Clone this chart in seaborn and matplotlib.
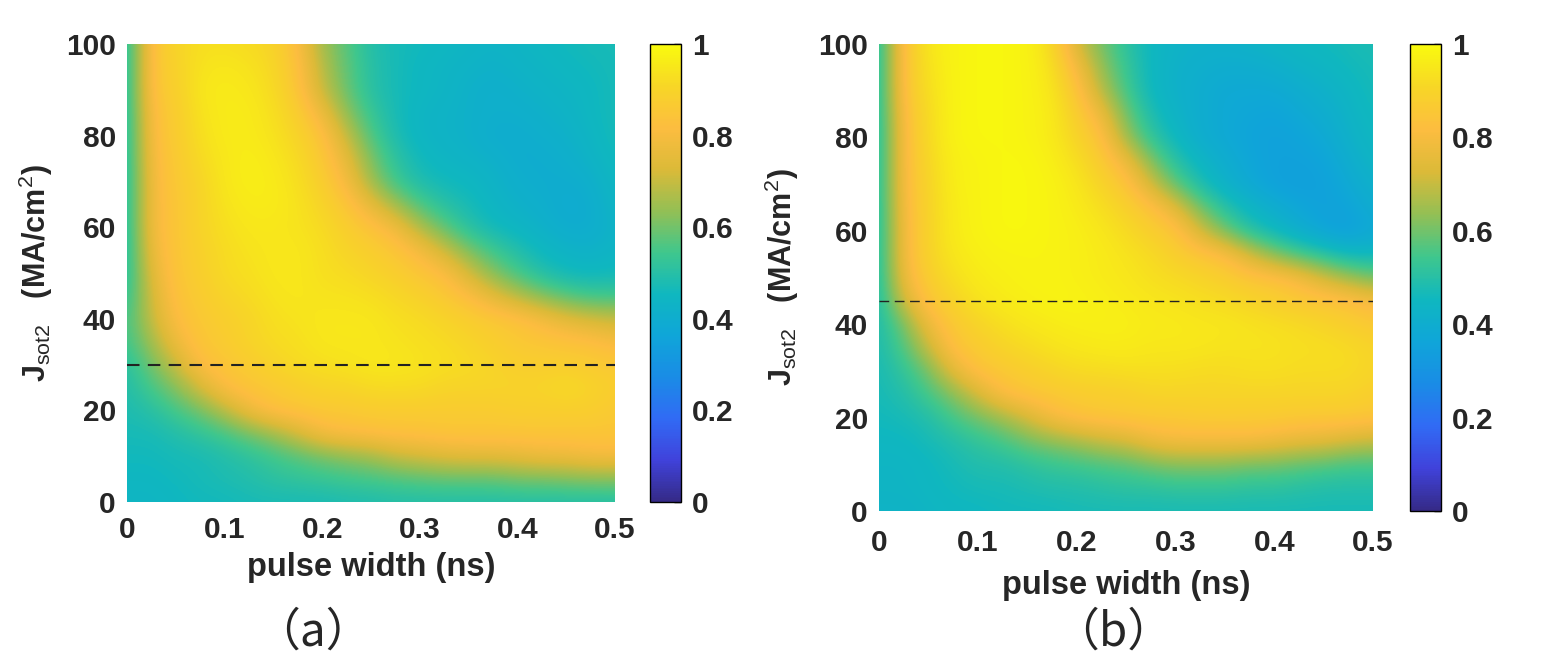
import numpy as np
import matplotlib
matplotlib.use("Agg")
import matplotlib.pyplot as plt
import seaborn as sns

sns.set_style("white")
plt.rcParams['font.family'] = ['Liberation Sans', 'DejaVu Sans']
plt.rcParams['mathtext.fontset'] = 'custom'
plt.rcParams['mathtext.rm'] = 'Liberation Sans'
plt.rcParams['mathtext.bf'] = 'Liberation Sans:bold'

# pulse width (ns) columns and J_sot2 rows (MA/cm^2), rows listed top (100) -> bottom (0)
pulse_width = [round(0.025 * i, 3) for i in range(21)]
j_sot2 = list(range(100, -1, -5))

# panel (a) switching probability
prob_a = [
    [0.48, 0.85, 0.90, 0.93, 0.93, 0.92, 0.90, 0.82, 0.65, 0.57, 0.49, 0.47, 0.46, 0.45, 0.44, 0.43, 0.44, 0.45, 0.46, 0.47, 0.47],
    [0.48, 0.85, 0.89, 0.94, 0.95, 0.94, 0.91, 0.84, 0.68, 0.58, 0.50, 0.47, 0.45, 0.44, 0.43, 0.42, 0.43, 0.44, 0.45, 0.46, 0.47],
    [0.48, 0.85, 0.88, 0.95, 0.96, 0.95, 0.92, 0.85, 0.70, 0.59, 0.50, 0.47, 0.45, 0.44, 0.42, 0.41, 0.42, 0.43, 0.44, 0.45, 0.47],
    [0.48, 0.83, 0.87, 0.94, 0.96, 0.96, 0.93, 0.88, 0.78, 0.63, 0.53, 0.47, 0.44, 0.43, 0.42, 0.41, 0.41, 0.42, 0.43, 0.45, 0.47],
    [0.48, 0.82, 0.87, 0.93, 0.96, 0.96, 0.94, 0.90, 0.84, 0.70, 0.56, 0.48, 0.44, 0.43, 0.42, 0.40, 0.40, 0.41, 0.42, 0.44, 0.47],
    [0.48, 0.81, 0.86, 0.92, 0.95, 0.97, 0.95, 0.92, 0.86, 0.76, 0.61, 0.51, 0.46, 0.44, 0.43, 0.42, 0.40, 0.40, 0.41, 0.43, 0.46],
    [0.48, 0.80, 0.86, 0.90, 0.95, 0.97, 0.96, 0.93, 0.88, 0.80, 0.65, 0.54, 0.48, 0.46, 0.45, 0.43, 0.41, 0.40, 0.40, 0.41, 0.45],
    [0.48, 0.80, 0.85, 0.90, 0.94, 0.96, 0.96, 0.94, 0.90, 0.85, 0.76, 0.65, 0.56, 0.50, 0.47, 0.44, 0.42, 0.41, 0.39, 0.40, 0.44],
    [0.48, 0.80, 0.85, 0.90, 0.93, 0.95, 0.95, 0.94, 0.92, 0.88, 0.84, 0.79, 0.67, 0.58, 0.50, 0.46, 0.44, 0.42, 0.40, 0.40, 0.43],
    [0.48, 0.78, 0.85, 0.89, 0.92, 0.94, 0.95, 0.95, 0.93, 0.90, 0.88, 0.85, 0.80, 0.71, 0.61, 0.54, 0.49, 0.45, 0.43, 0.42, 0.44],
    [0.49, 0.75, 0.85, 0.88, 0.92, 0.93, 0.95, 0.95, 0.93, 0.92, 0.90, 0.88, 0.85, 0.82, 0.72, 0.62, 0.55, 0.49, 0.46, 0.45, 0.46],
    [0.51, 0.72, 0.84, 0.87, 0.90, 0.92, 0.94, 0.95, 0.94, 0.94, 0.93, 0.91, 0.89, 0.86, 0.82, 0.75, 0.68, 0.62, 0.57, 0.54, 0.54],
    [0.54, 0.70, 0.82, 0.86, 0.88, 0.90, 0.93, 0.94, 0.95, 0.95, 0.95, 0.93, 0.92, 0.90, 0.88, 0.86, 0.84, 0.80, 0.75, 0.72, 0.70],
    [0.54, 0.65, 0.78, 0.85, 0.87, 0.90, 0.92, 0.93, 0.95, 0.95, 0.95, 0.94, 0.93, 0.92, 0.90, 0.88, 0.86, 0.85, 0.84, 0.83, 0.80],
    [0.50, 0.60, 0.70, 0.82, 0.85, 0.87, 0.90, 0.92, 0.93, 0.94, 0.95, 0.95, 0.94, 0.93, 0.92, 0.90, 0.88, 0.88, 0.88, 0.87, 0.86],
    [0.49, 0.55, 0.62, 0.72, 0.82, 0.85, 0.86, 0.88, 0.90, 0.90, 0.92, 0.92, 0.92, 0.90, 0.90, 0.90, 0.90, 0.90, 0.92, 0.90, 0.88],
    [0.48, 0.50, 0.55, 0.60, 0.68, 0.78, 0.84, 0.85, 0.86, 0.86, 0.87, 0.87, 0.87, 0.87, 0.87, 0.87, 0.88, 0.88, 0.88, 0.88, 0.86],
    [0.47, 0.47, 0.49, 0.52, 0.55, 0.60, 0.65, 0.72, 0.80, 0.82, 0.83, 0.84, 0.84, 0.85, 0.85, 0.85, 0.85, 0.85, 0.85, 0.85, 0.85],
    [0.46, 0.46, 0.47, 0.47, 0.49, 0.51, 0.54, 0.57, 0.60, 0.63, 0.65, 0.70, 0.72, 0.74, 0.75, 0.75, 0.76, 0.78, 0.78, 0.80, 0.80],
    [0.45, 0.45, 0.46, 0.47, 0.48, 0.49, 0.51, 0.52, 0.53, 0.54, 0.55, 0.56, 0.57, 0.58, 0.58, 0.58, 0.60, 0.60, 0.61, 0.62, 0.62],
    [0.44, 0.44, 0.45, 0.46, 0.46, 0.47, 0.47, 0.47, 0.47, 0.48, 0.48, 0.49, 0.49, 0.49, 0.49, 0.49, 0.49, 0.49, 0.49, 0.49, 0.49],
]

# panel (b)
prob_b = [
    [0.48, 0.85, 0.95, 0.98, 0.99, 0.99, 0.98, 0.92, 0.72, 0.60, 0.51, 0.45, 0.43, 0.42, 0.42, 0.43, 0.44, 0.45, 0.46, 0.47, 0.48],
    [0.48, 0.85, 0.94, 0.98, 0.99, 0.99, 0.98, 0.94, 0.80, 0.64, 0.53, 0.45, 0.42, 0.41, 0.40, 0.40, 0.41, 0.43, 0.44, 0.46, 0.47],
    [0.48, 0.85, 0.93, 0.98, 0.99, 0.99, 0.98, 0.95, 0.85, 0.68, 0.55, 0.45, 0.42, 0.40, 0.38, 0.38, 0.38, 0.40, 0.42, 0.44, 0.47],
    [0.48, 0.83, 0.92, 0.98, 0.99, 0.99, 0.98, 0.96, 0.88, 0.78, 0.60, 0.48, 0.43, 0.40, 0.38, 0.37, 0.36, 0.38, 0.40, 0.43, 0.46],
    [0.48, 0.82, 0.92, 0.98, 0.99, 0.99, 0.98, 0.96, 0.90, 0.84, 0.65, 0.52, 0.45, 0.40, 0.38, 0.36, 0.35, 0.36, 0.38, 0.42, 0.45],
    [0.48, 0.82, 0.91, 0.97, 0.98, 0.99, 0.99, 0.97, 0.93, 0.87, 0.78, 0.62, 0.50, 0.44, 0.40, 0.37, 0.35, 0.35, 0.36, 0.40, 0.44],
    [0.48, 0.82, 0.90, 0.97, 0.98, 0.99, 0.99, 0.98, 0.95, 0.90, 0.85, 0.72, 0.58, 0.48, 0.42, 0.38, 0.35, 0.34, 0.35, 0.38, 0.42],
    [0.48, 0.81, 0.90, 0.96, 0.98, 0.99, 0.99, 0.98, 0.96, 0.93, 0.89, 0.84, 0.75, 0.60, 0.50, 0.44, 0.40, 0.37, 0.35, 0.36, 0.40],
    [0.48, 0.80, 0.90, 0.96, 0.98, 0.99, 0.99, 0.98, 0.97, 0.95, 0.92, 0.88, 0.85, 0.72, 0.60, 0.50, 0.45, 0.40, 0.36, 0.34, 0.38],
    [0.48, 0.80, 0.90, 0.95, 0.97, 0.98, 0.98, 0.98, 0.97, 0.96, 0.94, 0.92, 0.88, 0.85, 0.82, 0.72, 0.62, 0.55, 0.50, 0.45, 0.45],
    [0.48, 0.78, 0.88, 0.93, 0.96, 0.97, 0.98, 0.98, 0.97, 0.96, 0.95, 0.93, 0.92, 0.90, 0.88, 0.85, 0.84, 0.80, 0.72, 0.65, 0.60],
    [0.48, 0.72, 0.85, 0.90, 0.94, 0.96, 0.97, 0.98, 0.98, 0.97, 0.96, 0.95, 0.94, 0.93, 0.92, 0.90, 0.88, 0.86, 0.85, 0.84, 0.80],
    [0.48, 0.60, 0.78, 0.86, 0.90, 0.93, 0.95, 0.96, 0.97, 0.97, 0.97, 0.96, 0.96, 0.95, 0.95, 0.94, 0.93, 0.92, 0.90, 0.88, 0.86],
    [0.48, 0.56, 0.70, 0.84, 0.87, 0.90, 0.92, 0.94, 0.95, 0.96, 0.96, 0.95, 0.95, 0.95, 0.94, 0.94, 0.94, 0.93, 0.93, 0.92, 0.90],
    [0.47, 0.52, 0.60, 0.75, 0.84, 0.86, 0.88, 0.90, 0.92, 0.92, 0.93, 0.93, 0.93, 0.92, 0.92, 0.93, 0.93, 0.92, 0.92, 0.92, 0.90],
    [0.47, 0.49, 0.55, 0.62, 0.72, 0.82, 0.85, 0.86, 0.87, 0.88, 0.88, 0.90, 0.90, 0.90, 0.90, 0.90, 0.90, 0.90, 0.90, 0.90, 0.88],
    [0.46, 0.47, 0.49, 0.55, 0.60, 0.65, 0.72, 0.80, 0.84, 0.85, 0.86, 0.86, 0.86, 0.87, 0.87, 0.87, 0.87, 0.86, 0.86, 0.86, 0.85],
    [0.45, 0.45, 0.47, 0.49, 0.52, 0.55, 0.60, 0.63, 0.66, 0.70, 0.72, 0.78, 0.80, 0.80, 0.80, 0.80, 0.78, 0.76, 0.75, 0.72, 0.70],
    [0.44, 0.44, 0.45, 0.47, 0.49, 0.49, 0.51, 0.53, 0.54, 0.56, 0.57, 0.60, 0.62, 0.62, 0.62, 0.60, 0.60, 0.58, 0.57, 0.55, 0.55],
    [0.44, 0.44, 0.45, 0.46, 0.47, 0.47, 0.48, 0.49, 0.49, 0.50, 0.51, 0.51, 0.52, 0.52, 0.52, 0.51, 0.51, 0.50, 0.49, 0.49, 0.49],
    [0.43, 0.43, 0.44, 0.45, 0.45, 0.46, 0.46, 0.46, 0.47, 0.47, 0.47, 0.47, 0.47, 0.47, 0.47, 0.47, 0.47, 0.47, 0.47, 0.47, 0.47],
]

threshold_a = 30
threshold_b = 45

xticks = [0, 0.1, 0.2, 0.3, 0.4, 0.5]
xtick_labels = ['0', '0.1', '0.2', '0.3', '0.4', '0.5']
yticks = [0, 20, 40, 60, 80, 100]
cticks = [0, 0.2, 0.4, 0.6, 0.8, 1]
ctick_labels = ['0', '0.2', '0.4', '0.6', '0.8', '1']

# parula-like colormap
parula = sns.blend_palette([
    (0.208, 0.166, 0.529), (0.25, 0.26, 0.86), (0.19, 0.42, 0.96),
    (0.10, 0.55, 0.90), (0.06, 0.65, 0.85), (0.06, 0.72, 0.75),
    (0.25, 0.78, 0.55), (0.58, 0.75, 0.33), (0.86, 0.73, 0.22),
    (0.99, 0.74, 0.25), (0.97, 0.84, 0.15), (0.976, 0.983, 0.054),
], n_colors=256, as_cmap=True)

fig = plt.figure(figsize=(15.44, 6.59), dpi=100)
W, H = 1544, 659


def px_axes(x0, y0, x1, y1):
    return fig.add_axes([x0 / W, 1 - y1 / H, (x1 - x0) / W, (y1 - y0) / H])


def panel(ax, cax, data, thr, lw, dashes, tickpad, xlabpad, ylabpad):
    dx = pulse_width[1] - pulse_width[0]
    dy = j_sot2[0] - j_sot2[1]
    ext = [pulse_width[0] - dx / 2, pulse_width[-1] + dx / 2,
           j_sot2[-1] - dy / 2, j_sot2[0] + dy / 2]
    im = ax.imshow(np.array(data), origin='upper', extent=ext, aspect='auto',
                   cmap=parula, vmin=0, vmax=1, interpolation='bicubic')
    ax.set_xlim(0, 0.5)
    ax.set_ylim(0, 100)
    ax.axhline(thr, color='#222222', lw=lw, ls=(0, dashes))
    ax.set_xticks(xticks)
    ax.set_xticklabels(xtick_labels, fontsize=21.5, fontweight='bold', color='#262626')
    ax.set_yticks(yticks)
    ax.set_yticklabels([str(v) for v in yticks], fontsize=21.5, fontweight='bold', color='#262626')
    ax.tick_params(axis='x', length=0, pad=tickpad)
    ax.tick_params(axis='y', length=0, pad=8)
    for s in ax.spines.values():
        s.set_visible(False)
    ax.set_xlabel('pulse width (ns)', fontsize=23.5, fontweight='bold', color='#262626', labelpad=xlabpad)
    ax.set_ylabel(r'$\mathbf{J}_{\mathrm{sot2}}$   (MA/cm$^{\mathrm{2}}$)', fontsize=22,
                  fontweight='bold', color='#262626', labelpad=ylabpad)
    cb = fig.colorbar(im, cax=cax, ticks=cticks)
    cb.ax.set_yticklabels(ctick_labels, fontsize=21.5, fontweight='bold', color='#262626')
    cb.ax.tick_params(direction='in', length=5, width=1, color='k', pad=8)
    cb.outline.set_linewidth(1)
    cb.outline.set_edgecolor('k')


ax_a = px_axes(127, 44, 615, 502)
cax_a = px_axes(650, 44, 681, 502)
ax_b = px_axes(879, 44, 1373, 511)
cax_b = px_axes(1410, 44, 1441, 511)

panel(ax_a, cax_a, prob_a, threshold_a, 1.5, (6, 4), 10, 6, 8)
panel(ax_b, cax_b, prob_b, threshold_b, 1.0, (7, 4), 13, 9, 12)

fig.text(313 / W, 1 - 632 / H, '（a）', fontsize=33, ha='center', va='center',
         family=['Noto Sans CJK SC', 'DejaVu Sans'])
fig.text(1113 / W, 1 - 632 / H, '（b）', fontsize=33, ha='center', va='center',
         family=['Noto Sans CJK SC', 'DejaVu Sans'])

fig.savefig('out.png', dpi=100)
